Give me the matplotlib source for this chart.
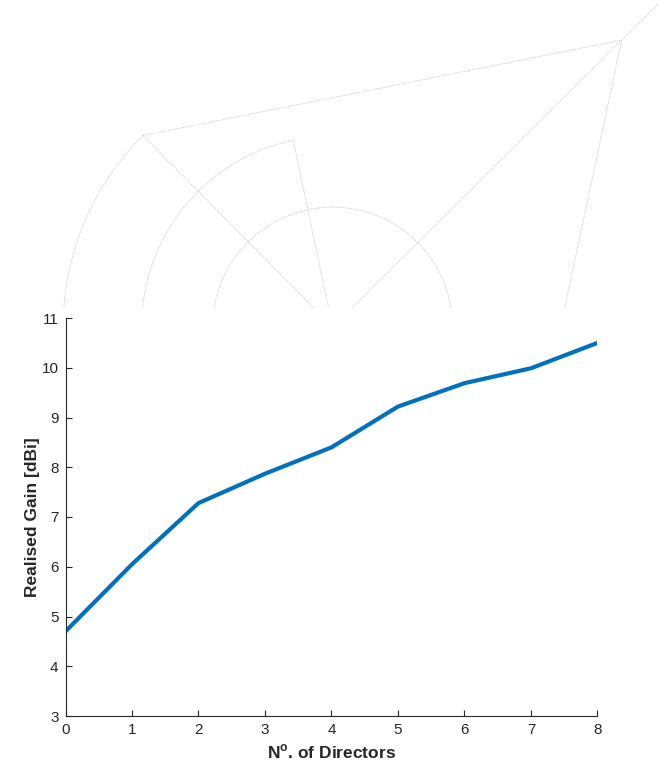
import numpy as np
import matplotlib
matplotlib.use("Agg")
import matplotlib.pyplot as plt

# Realised gain of the Yagi array against the number of directors
n_directors = [0, 1, 2, 3, 4, 5, 6, 7, 8]
gain_dbi = [4.70, 6.05, 7.28, 7.87, 8.40, 9.22, 9.69, 9.99, 10.50]

x_ticks = list(range(0, 9))
y_ticks = list(range(3, 12))

BLUE = "#0072BD"
AXIS_GREY = "#262626"
SKETCH_GREY = "#c4c4c4"

plt.rcParams["font.family"] = ["Liberation Sans", "DejaVu Sans"]
plt.rcParams["mathtext.fontset"] = "custom"
plt.rcParams["mathtext.rm"] = "Liberation Sans:bold"
plt.rcParams["mathtext.bf"] = "Liberation Sans:bold"

W, H = 658, 766
fig = plt.figure(figsize=(W / 100, H / 100), dpi=100)

# faint polar sketch in the background (pixel frame, clipped above the plot)
sketch_bottom = 308
sk = fig.add_axes([0, 1 - sketch_bottom / H, 1, sketch_bottom / H])
sk.set_xlim(0, W)
sk.set_ylim(sketch_bottom, 0)
sk.axis("off")

cx, cy = 332.6, 327.1


def polar_pt(deg, r):
    t = np.radians(deg)
    return cx + r * np.cos(t), cy - r * np.sin(t)


def arc(r, a0, a1):
    t = np.linspace(a0, a1, 200)
    xs, ys = polar_pt(t, r)
    sk.plot(xs, ys, ls=(0, (1, 1.2)), color=SKETCH_GREY, lw=0.7)


def seg(p, q):
    sk.plot([p[0], q[0]], [p[1], q[1]], ls=(0, (1, 1.2)), color=SKETCH_GREY, lw=0.7)


arc(120, 0, 180)
arc(191, 101.9, 180)
arc(269.5, 134.7, 180)

origin = (cx, cy)
p135 = polar_pt(134.7, 269.5)
p102 = polar_pt(101.9, 191)
p45 = polar_pt(44.8, 407.5)
p0 = polar_pt(0, 228)

seg(p135, origin)
seg(p102, origin)
seg(origin, polar_pt(44.8, 470))
seg(p135, p45)
seg(p45, p0)

# main gain curve
ax = fig.add_axes([65.5 / W, (H - 716) / H, 532 / W, 398 / H])
ax.plot(n_directors, gain_dbi, color=BLUE, lw=3.0, solid_capstyle="butt")

ax.set_xlim(0, 8)
ax.set_ylim(3, 11)
ax.set_xticks(x_ticks)
ax.set_yticks(y_ticks)

for side in ("top", "right"):
    ax.spines[side].set_visible(False)
for side in ("left", "bottom"):
    ax.spines[side].set_color(AXIS_GREY)
    ax.spines[side].set_linewidth(0.8)

ax.tick_params(direction="in", length=4.5, width=0.8, color=AXIS_GREY,
               labelcolor=AXIS_GREY, labelsize=11, pad=5)

ax.set_xlabel(r"N$^{\mathrm{o}}$. of Directors", fontsize=12.5, fontweight="bold",
              color=AXIS_GREY, labelpad=4)
ax.set_ylabel("Realised Gain [dBi]", fontsize=12.5, fontweight="bold",
              color=AXIS_GREY, labelpad=1)

fig.savefig("out.png", dpi=100)
